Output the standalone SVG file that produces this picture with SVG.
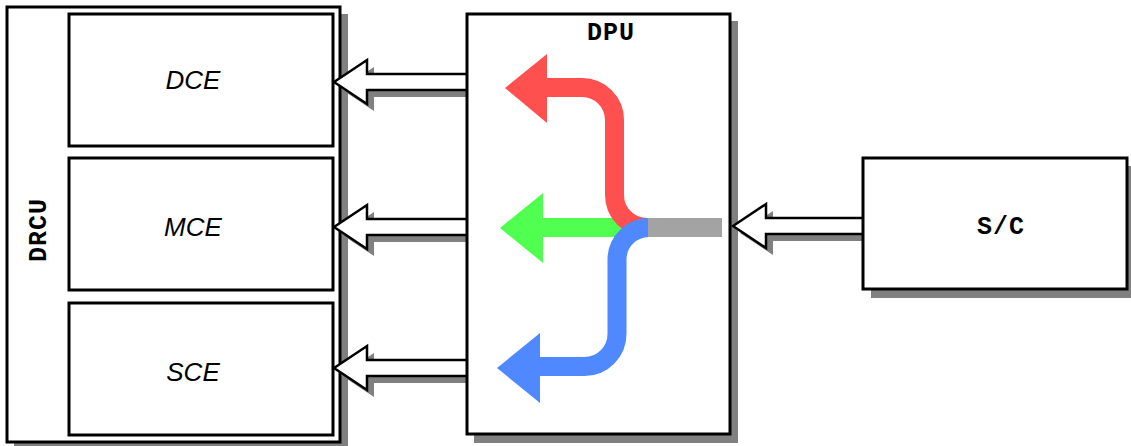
<svg xmlns="http://www.w3.org/2000/svg" width="1131" height="446" viewBox="0 0 1131 446">
<style>
.box{fill:#fff;stroke:#000;stroke-width:3}
.shadow{fill:#808080}
.blk{fill:#fff;stroke:#000;stroke-width:2.5;stroke-linejoin:miter}
.lbl{font-family:"Liberation Sans",Arial,sans-serif;font-style:italic;font-size:26px;text-anchor:middle;fill:#000}
.mono{font-family:"Liberation Mono","Courier New",monospace;font-weight:bold;text-anchor:middle;fill:#000;font-size:25px;letter-spacing:1px}
.flow{fill:none;stroke-width:19}
</style>
<defs>
<polygon id="bigArrow" points="0,0 33,-22 33,-8 134,-8 134,8 33,8 33,22"/>
</defs>
<g id="DRCU">
<rect class="shadow" x="14" y="14" width="334" height="436"/>
<rect class="box" x="7" y="7" width="333" height="435"/>
<text class="mono" transform="translate(46,230) rotate(-90)">DRCU</text>
</g>
<g id="DCE">
<rect class="box" x="69" y="14" width="264" height="132"/>
<text class="lbl" x="193" y="89">DCE</text>
</g>
<g id="MCE">
<rect class="box" x="69" y="158" width="264" height="132"/>
<text class="lbl" x="193" y="236">MCE</text>
</g>
<g id="SCE">
<rect class="box" x="69" y="303" width="264" height="132"/>
<text class="lbl" x="193" y="381">SCE</text>
</g>
<g id="shadows">
<rect class="shadow" x="474" y="21" width="264" height="422"/>
<rect class="shadow" x="871" y="166" width="264" height="132"/>
</g>
<g id="connectors">
<use href="#bigArrow" class="shadow" x="341" y="89"/>
<use href="#bigArrow" class="blk" x="334" y="82"/>
<use href="#bigArrow" class="shadow" x="341" y="234"/>
<use href="#bigArrow" class="blk" x="334" y="227"/>
<use href="#bigArrow" class="shadow" x="341" y="375"/>
<use href="#bigArrow" class="blk" x="334" y="368"/>
</g>
<g id="DPU">
<rect class="box" x="467" y="14" width="263" height="420"/>
<text class="mono" x="611" y="40">DPU</text>
<path class="flow" stroke="#50FF50" d="M542 227.5 H632"/>
<polygon fill="#50FF50" points="500,228 543,193 543,263"/>
<path class="flow" stroke="#FF5050" d="M546 87.5 H582 A32.5 32.5 0 0 1 614.5 120 V195 A32.5 32.5 0 0 0 647 227.5"/>
<polygon fill="#FF5050" points="505,88 547,54 547,123"/>
<path class="flow" stroke="#5088FF" d="M649 227.5 A32 32 0 0 0 617 259.5 V334 A32.5 32.5 0 0 1 584.5 366.5 H539"/>
<polygon fill="#5088FF" points="497,368 540,333 540,403"/>
<path class="flow" stroke="#A3A3A3" d="M648 227.5 H722"/>
</g>
<g id="connector-sc">
<use href="#bigArrow" class="shadow" x="740" y="233"/>
<use href="#bigArrow" class="blk" x="733" y="226"/>
</g>
<g id="SC">
<rect class="box" x="863" y="158" width="264" height="131"/>
<text class="mono" x="1001" y="234">S/C</text>
</g>
</svg>
